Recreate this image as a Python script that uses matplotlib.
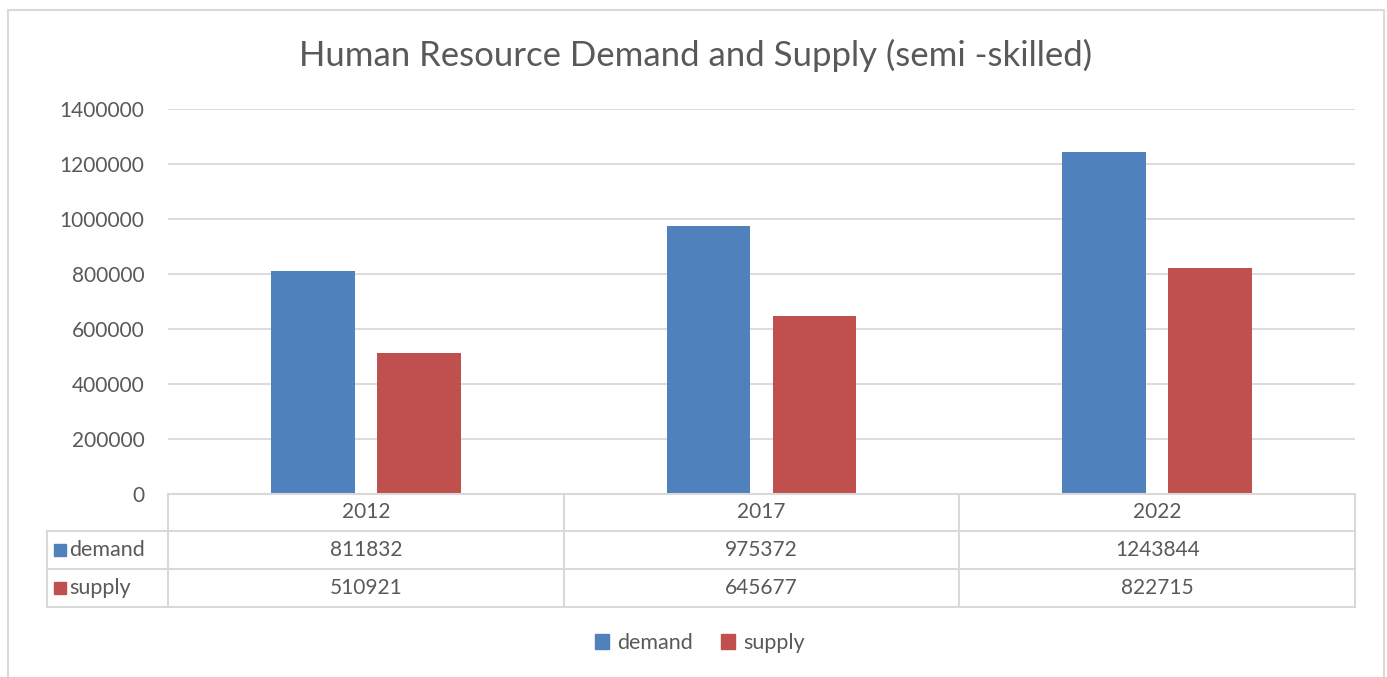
import numpy as np
import matplotlib.pyplot as plt
from matplotlib.patches import Rectangle
import matplotlib.transforms as mtransforms

# Données
years = ['2012', '2017', '2022']
demand = [811832, 975372, 1243844]
supply = [510921, 645677, 822715]
series_names = ['demand', 'supply']
colors = ['#4F81BD', '#C0504D']
y_ticks = [0, 200000, 400000, 600000, 800000, 1000000, 1200000, 1400000]

txt = '#595959'
grid = '#D9D9D9'
plt.rcParams['font.family'] = ['Lato', 'DejaVu Sans']

W, H = 1387, 677
fig = plt.figure(figsize=(W / 100, H / 100), dpi=100)

# zone du graphique (pixels -> fraction)
left, right, top, bottom = 168, 1355, 109, 494
ax = fig.add_axes([left / W, 1 - bottom / H, (right - left) / W, (bottom - top) / H])

x = np.arange(len(years))
off, bw = 0.134, 0.212
ax.bar(x - off, demand, width=bw, color=colors[0], zorder=3)
ax.bar(x + off, supply, width=bw, color=colors[1], zorder=3)

ax.set_xlim(-0.5, len(years) - 0.5)
ax.set_ylim(0, 1400000)
ax.set_yticks(y_ticks)
ax.set_yticklabels([str(v) for v in y_ticks])
ax.yaxis.grid(True, color=grid, linewidth=1.3, zorder=0)
ax.set_xticks([])
ax.tick_params(axis='y', length=0, pad=17, labelsize=15, labelcolor=txt)
for s in ax.spines.values():
    s.set_visible(False)

# Tableau de données sous le graphique
trans = mtransforms.blended_transform_factory(ax.transData, ax.transAxes)
ah = bottom - top
rows = [0, -(531 - bottom) / ah, -(569 - bottom) / ah, -(607 - bottom) / ah]
x_lab = -(left - 47) / (right - left)  # bord gauche de la colonne des noms

lkw = dict(color=grid, linewidth=1.5, clip_on=False, zorder=4)
ax.plot([-0.5, len(years) - 0.5], [rows[0], rows[0]], transform=trans, **lkw)
for r in rows[1:]:
    ax.plot([x_lab, 1], [r, r], transform=ax.transAxes, **lkw)
ax.plot([x_lab, x_lab], [rows[1], rows[3]], transform=ax.transAxes, **lkw)
for b in np.arange(len(years) + 1) - 0.5:
    ax.plot([b, b], [rows[0], rows[3]], transform=trans, **lkw)

for i, yr in enumerate(years):
    ax.text(i, (rows[0] + rows[1]) / 2, yr, transform=trans, ha='center', va='center',
            fontsize=15, color=txt)
    ax.text(i, (rows[1] + rows[2]) / 2, str(demand[i]), transform=trans, ha='center',
            va='center', fontsize=15, color=txt)
    ax.text(i, (rows[2] + rows[3]) / 2, str(supply[i]), transform=trans, ha='center',
            va='center', fontsize=15, color=txt)

sq = 12 / (right - left)
for k, name in enumerate(series_names):
    yc = (rows[k + 1] + rows[k + 2]) / 2
    ax.add_patch(Rectangle((x_lab + 7 / (right - left), yc - 6 / ah), sq, 12 / ah,
                           transform=ax.transAxes, color=colors[k], clip_on=False))
    ax.text(x_lab + 22 / (right - left), yc, name, transform=ax.transAxes, ha='left',
            va='center', fontsize=15.5, color=txt)

# Légende
handles = [Rectangle((0, 0), 1, 1, color=c) for c in colors]
fig.legend(handles, series_names, loc='center', bbox_to_anchor=(700 / W, 1 - 643 / H),
           ncol=2, frameon=False, fontsize=15.5, labelcolor=txt, handlelength=0.65,
           handleheight=0.65, handletextpad=0.4, columnspacing=1.3)

# Titre
fig.text(696 / W, 1 - 55 / H, 'Human Resource Demand and Supply (semi -skilled)',
         ha='center', va='center', fontsize=25, color=txt)

# Cadre du graphique
fig.patches.append(Rectangle((8 / W, -0.05), (1384 - 8) / W, 1.05 - 10 / H,
                             transform=fig.transFigure, fill=False, edgecolor=grid,
                             linewidth=1.5))

fig.savefig('out.png', dpi=100, facecolor='white')
